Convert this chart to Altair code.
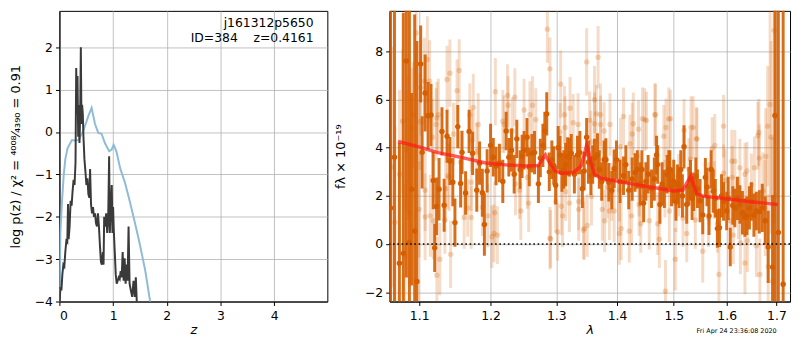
import altair as alt
import pandas as pd

# ---------------- left panel: log p(z) ----------------
z_dark = [0.0, 0.006, 0.018, 0.037, 0.055, 0.074, 0.092, 0.11, 0.129, 0.147, 0.16, 0.172, 0.19, 0.209,
          0.227, 0.245, 0.264, 0.282, 0.3, 0.313, 0.325, 0.337, 0.35, 0.362, 0.374, 0.387, 0.399, 0.411,
          0.423, 0.436, 0.448, 0.466, 0.485, 0.503, 0.521, 0.54, 0.558, 0.571, 0.589, 0.607, 0.626, 0.644,
          0.663, 0.681, 0.699, 0.718, 0.736, 0.755, 0.773, 0.791, 0.81, 0.822, 0.834, 0.853, 0.871, 0.89,
          0.908, 0.926, 0.939, 0.957, 0.975, 0.988, 1.0, 1.012, 1.031, 1.049, 1.067, 1.086, 1.104, 1.123,
          1.141, 1.16, 1.178, 1.196, 1.215, 1.233, 1.252, 1.27, 1.288, 1.307, 1.331, 1.356, 1.38, 1.405,
          1.423, 1.442, 1.466]
lp_dark = [-4.2, -3.98, -3.66, -3.74, -3.36, -3.13, -3.17, -2.83, -2.57, -2.6, -1.7, -2.53, -2.23, -1.62,
           -1.74, -1.4, -1.13, -1.25, -0.72, 1.51, 0.42, 1.32, -0.11, 0.64, -0.26, 0.42, 2.0, 0.19,
           0.64, 0.42, -0.11, -0.64, -0.94, -1.25, -1.09, -1.47, -1.55, -0.87, -1.7, -1.92, -1.77, -2.0,
           -1.92, -2.15, -2.23, -1.92, -2.23, -2.68, -3.06, -3.13, -2.83, -3.13, -2.0, -2.23, -1.92, -2.38,
           -2.08, -0.57, -2.38, -1.77, -1.25, -2.38, -1.77, -2.3, -2.83, -3.36, -3.58, -3.51, -3.43, -3.47,
           -3.28, -3.43, -2.83, -3.51, -2.98, -3.58, -3.13, -3.51, -2.23, -3.58, -3.74, -3.89, -3.51, -3.89,
           -3.43, -4.04, -4.34]

z_prior = [0.0, 0.018, 0.049, 0.08, 0.11, 0.153, 0.233, 0.276, 0.356, 0.448, 0.54, 0.60, 0.663, 0.724,
           0.785, 0.847, 0.926, 0.97, 1.01, 1.06, 1.135, 1.215, 1.294, 1.38, 1.49, 1.60, 1.687, 1.72]
lp_prior = [-4.3, -2.38, -1.62, -1.02, -0.64, -0.38, -0.19, -0.2, -0.19, 0.04, 0.38, 0.57, 0.19, -0.02,
            -0.04, -0.26, -0.45, -0.42, -0.3, -0.45, -0.87, -1.17, -1.55, -2.0, -2.6, -3.28, -3.98, -4.26]

z_ticks = [0, 1, 2, 3, 4]
lp_ticks = [-4, -3, -2, -1, 0, 1, 2]
left_labels = ["j161312p5650", "ID=384\u00a0\u00a0\u00a0\u00a0z=0.4161"]

# ---------------- right panel: spectrum ----------------
lam_dark = [1.0623, 1.0674, 1.0738, 1.079, 1.083, 1.087, 1.090, 1.094, 1.097,
            1.102, 1.104, 1.108, 1.112, 1.116, 1.119, 1.121, 1.1236, 1.127, 1.131, 1.134, 1.138,
            1.142, 1.146, 1.149, 1.153, 1.157, 1.159, 1.164, 1.169, 1.174, 1.180, 1.184, 1.188,
            1.191, 1.195, 1.200, 1.204, 1.208, 1.213, 1.218, 1.223, 1.227, 1.231, 1.235, 1.239,
            1.244, 1.247, 1.250, 1.2545, 1.258, 1.262, 1.266, 1.272, 1.275, 1.279, 1.282, 1.285,
            1.289, 1.293, 1.296, 1.299, 1.303, 1.306, 1.309, 1.312, 1.315, 1.318, 1.321, 1.324,
            1.329, 1.334, 1.338, 1.342, 1.345, 1.349, 1.352, 1.356, 1.359, 1.362, 1.367, 1.370,
            1.374, 1.378, 1.381, 1.386, 1.391, 1.395, 1.399, 1.405, 1.411, 1.415, 1.420, 1.426,
            1.431, 1.435, 1.440, 1.443, 1.446, 1.450, 1.454, 1.460, 1.465, 1.469, 1.471, 1.475,
            1.479, 1.483, 1.488, 1.491, 1.493, 1.496, 1.500, 1.504, 1.507, 1.510, 1.513, 1.516,
            1.519, 1.524, 1.528, 1.531, 1.534, 1.537, 1.541, 1.544, 1.549, 1.554, 1.559, 1.562,
            1.566, 1.570, 1.574, 1.578, 1.582, 1.586, 1.590, 1.594, 1.600, 1.603, 1.607, 1.612,
            1.616, 1.621, 1.626, 1.631, 1.636, 1.640, 1.645, 1.649, 1.654, 1.659, 1.665, 1.671,
            1.677, 1.683, 1.692, 1.697, 1.704, 1.714]
f_dark = [1.5, 3.61, -0.8, -0.39, 7.61, 0.06, 2.28, 0.54, -1.56,
          7.48, 3.81, 6.28, 5.33, 5.36, 2.64, -0.16, 1.56, 2.28, 4.68, 1.61, 4.48,
          3.45, 2.57, 0.89, 4.88, 2.52, 3.81, 2.12, 4.68, 3.77, 2.24, 3.36, 2.13,
          0.81, 3.04, 4.1, 3.61, 3.24, 3.37, 2.6, 4.7, 3.61, 3.9, 2.9, 4.37,
          3.1, 3.64, 3.9, 4.44, 3.2, 3.77, 3.8, 2.5, 3.57, 4.1, 4.7, 5.41,
          3.0, 3.5, 3.26, 2.44, 4.0, 3.7, 2.97, 3.1, 3.3, 3.64, 3.61, 3.77,
          2.9, 3.7, 3.8, 2.3, 3.04, 4.44, 3.4, 2.84, 3.3, 3.57, 3.7, 3.1,
          2.6, 3.5, 3.5, 2.57, 2.24, 3.13, 3.5, 2.6, 2.84, 3.3, 2.24, 2.7,
          2.97, 3.1, 2.5, 3.1, 1.7, 2.6, 2.9, 2.3, 2.7, 3.7, 3.3, 1.64,
          2.5, 2.3, 2.9, 3.1, 3.1, 2.37, 2.6, 1.77, 2.5, 2.3, 3.1, 2.0,
          4.04, 1.64, 2.4, 2.7, 1.9, 2.17, 2.8, 2.3, 1.8, 1.21, 2.77, 2.37,
          1.17, 3.1, 2.2, 1.9, 0.64, 0.68, 2.0, 1.77, 1.37, 1.9, -0.12, 1.6,
          1.5, 1.9, 1.64, 1.3, 1.1, 1.17, 1.5, 1.77, 1.2, 1.37, 1.34, 1.5,
          0.97, -0.12, -0.96, 5.34, 0.48, -1.67]
e_dark = [12.0, 12.0, 5.0, 10.0, 9.0, 10.0, 4.0, 9.0, 10.0,
          1.6, 1.5, 1.6, 1.4, 1.3, 1.2, 1.0, 1.2, 1.3, 1.0, 1.1, 1.1,
          1.0, 1.0, 1.0, 0.9, 1.0, 0.9, 0.9, 0.9, 0.9, 0.9, 0.9, 1.0,
          1.3, 0.9, 0.9, 0.8, 0.8, 0.8, 0.9, 0.8, 0.8, 0.9, 0.8, 0.8,
          0.8, 0.9, 0.8, 0.8, 0.8, 0.8, 0.9, 0.8, 0.8, 0.9, 0.8, 0.9,
          0.8, 0.8, 0.8, 0.8, 0.9, 0.8, 0.8, 0.8, 0.9, 0.8, 0.8, 0.8,
          0.8, 0.8, 0.9, 0.8, 0.8, 0.8, 0.9, 0.8, 0.8, 0.8, 0.9, 0.8,
          0.8, 0.8, 0.9, 0.8, 0.8, 0.8, 0.8, 0.9, 0.8, 0.8, 0.8, 0.9,
          0.8, 0.8, 0.9, 0.8, 0.8, 0.8, 0.8, 0.8, 0.9, 0.8, 0.8, 0.8,
          0.9, 0.8, 0.8, 0.8, 0.8, 0.8, 0.9, 0.8, 0.8, 0.8, 0.8, 0.9,
          0.9, 0.8, 0.8, 0.8, 0.9, 0.8, 0.8, 0.8, 0.9, 0.8, 0.8, 0.8,
          0.8, 0.8, 0.9, 0.8, 0.8, 0.8, 0.9, 0.8, 0.8, 0.9, 0.8, 0.8,
          0.8, 0.9, 0.8, 0.9, 0.8, 0.8, 0.9, 0.8, 0.9, 0.8, 0.9, 1.0,
          1.0, 1.5, 3.0, 8.0, 10.0, 12.0]

lam_light = [1.064, 1.068, 1.074, 1.078, 1.081, 1.083, 1.085, 1.087, 1.090, 1.092, 1.096, 1.100,
             1.101, 1.102, 1.107, 1.108, 1.108, 1.111, 1.114, 1.115, 1.118, 1.119, 1.123, 1.124,
             1.124, 1.126, 1.128, 1.135, 1.136, 1.138, 1.139, 1.141, 1.142, 1.143, 1.147, 1.152,
             1.155, 1.157, 1.162, 1.167, 1.170, 1.172, 1.172, 1.173, 1.175, 1.180, 1.182, 1.188,
             1.196, 1.202, 1.205, 1.206, 1.207, 1.210, 1.218, 1.220, 1.225, 1.226, 1.232, 1.236,
             1.237, 1.243, 1.245, 1.250, 1.255, 1.257, 1.259, 1.263, 1.268, 1.286, 1.290, 1.290,
             1.291, 1.299, 1.302, 1.306, 1.307, 1.308, 1.310, 1.313, 1.314, 1.315, 1.321, 1.322,
             1.327, 1.335, 1.336, 1.336, 1.344, 1.345, 1.349, 1.350, 1.354, 1.356, 1.357, 1.362,
             1.362, 1.365, 1.368, 1.372, 1.372, 1.375, 1.378, 1.379, 1.383, 1.387, 1.388, 1.391,
             1.395, 1.404, 1.404, 1.406, 1.407, 1.411, 1.421, 1.422, 1.425, 1.426, 1.428, 1.437,
             1.438, 1.438, 1.441, 1.444, 1.448, 1.451, 1.456, 1.466, 1.467, 1.471, 1.474, 1.482,
             1.484, 1.485, 1.486, 1.491, 1.492, 1.494, 1.503, 1.504, 1.509, 1.517, 1.519, 1.524,
             1.528, 1.531, 1.532, 1.536, 1.540, 1.542, 1.543, 1.554, 1.565, 1.566, 1.572, 1.576,
             1.577, 1.582, 1.585, 1.594, 1.594, 1.597, 1.607, 1.610, 1.611, 1.613, 1.616, 1.623,
             1.626, 1.627, 1.636, 1.636, 1.640, 1.641, 1.649, 1.655, 1.659, 1.662, 1.664, 1.665,
             1.666, 1.672, 1.677, 1.678, 1.682, 1.683, 1.687, 1.689, 1.692, 1.695, 1.699]
f_light = [3.2, 0.9, 2.9, 5.1, -0.5, 3.9, 4.0, 1.3, 4.8, 5.37, 8.77, 1.44,
           5.08, 6.5, 6.77, 1.13, 2.24, 7.67, 6.77, 1.17, 4.44, 0.97, 4.97, -1.3,
           5.24, 5.37, -0.63, 1.0, 2.3, 6.84, 2.84, 2.77, 7.1, -0.43, 4.57, 6.37,
           7.21, 3.4, 1.1, 1.5, 5.37, 2.57, 1.1, 4.3, 5.68, 3.84, 4.97, 1.53,
           1.17, 0.3, 0.44, 1.3, 6.33, 0.37, 5.1, 4.97, 6.17, 5.77, 4.7, 6.1,
           2.5, 2.24, 1.37, 5.57, 2.77, 1.7, 5.37, 5.77, 5.17, 8.93, 7.28, 0.24,
           0.21, 1.77, 0.5, 4.66, 6.64, 1.57, 1.17, 5.37, 4.84, 2.17, 1.7, 5.64,
           5.04, 4.97, 1.77, 1.44, 0.57, 0.64, 7.57, 0.77, 5.14, 4.24, 1.97, 6.0,
           5.0, 5.41, 7.76, 4.97, 5.37, 1.44, 4.7, 0.97, 2.37, 1.37, 4.97, 2.17,
           1.37, 0.44, 2.24, 4.04, 0.64, 5.3, 0.53, 4.17, 1.17, 4.57, 5.0, 4.77,
           1.64, 2.44, 0.84, 5.21, 5.17, 5.13, 0.97, 5.37, 5.37, 0.84, 0.2, 4.48,
           2.3, -1.96, 4.84, 5.2, 1.37, 5.21, -0.63, 1.7, 2.44, 1.08, 4.73, 0.44,
           3.1, 3.53, 4.84, 4.84, 1.0, 4.37, 4.37, -0.3, 1.08, 2.1, 3.97, 2.24,
           4.1, 0.84, -1.27, 2.94, 4.9, 2.64, 0.97, 3.44, 2.77, 0.37, 3.44, 1.5,
           3.17, 0.04, -0.79, 2.9, 3.04, 0.14, 2.46, 3.17, -0.07, 4.5, 4.64, 3.57,
           -1.27, 2.2, 1.5, 3.64, 4.9, -0.94, 5.8, 4.44, -1.56, 8.88, 2.0]
e_light = [5.0, 4.0, 3.5, 3.0, 3.0, 2.5, 3.0, 3.0, 2.5, 2.2, 2.2, 2.0,
           2.0, 2.0, 1.8, 1.8, 1.7, 1.8, 1.7, 1.7, 1.6, 1.6, 1.5, 1.6,
           1.5, 1.5, 1.5, 1.4, 1.4, 1.4, 1.4, 1.4, 1.4, 1.4, 1.3, 1.3,
           1.3, 1.3, 1.3, 1.2, 1.3, 1.2, 1.3, 1.3, 1.4, 1.2, 1.3, 1.2,
           1.3, 1.3, 1.2, 1.3, 1.4, 1.2, 1.3, 1.2, 1.3, 1.2, 1.4, 1.2,
           1.3, 1.2, 1.2, 1.3, 1.3, 1.2, 1.4, 1.2, 1.3, 1.4, 1.3, 1.3,
           1.2, 1.3, 1.2, 1.2, 1.4, 1.2, 1.3, 1.2, 1.3, 1.2, 1.2, 1.3,
           1.2, 1.3, 1.2, 1.3, 1.2, 1.3, 1.4, 1.3, 1.2, 1.3, 1.2, 1.4,
           1.3, 1.2, 1.3, 1.2, 1.3, 1.3, 1.2, 1.3, 1.3, 1.2, 1.3, 1.2,
           1.3, 1.3, 1.3, 1.2, 1.3, 1.2, 1.3, 1.2, 1.2, 1.3, 1.3, 1.2,
           1.3, 1.3, 1.2, 1.3, 1.3, 1.2, 1.2, 1.3, 1.3, 1.3, 1.2, 1.3,
           1.2, 1.3, 1.2, 1.3, 1.3, 1.2, 1.3, 1.2, 1.3, 1.2, 1.3, 1.2,
           1.3, 1.2, 1.3, 1.3, 1.2, 1.3, 1.3, 1.3, 1.2, 1.3, 1.3, 1.2,
           1.3, 1.2, 1.3, 1.2, 1.3, 1.3, 1.2, 1.3, 1.3, 1.2, 1.3, 1.3,
           1.2, 1.3, 1.3, 1.3, 1.2, 1.3, 1.3, 1.3, 1.3, 1.4, 1.4, 1.4,
           1.5, 1.6, 2.0, 2.0, 2.5, 3.0, 4.0, 4.0, 6.0, 8.0, 10.0]

lam_model = [1.072, 1.100, 1.124, 1.156, 1.193, 1.226, 1.252, 1.272, 1.278, 1.283, 1.288, 1.298,
             1.309, 1.327, 1.340, 1.345, 1.349, 1.352, 1.356, 1.362, 1.372, 1.411, 1.438, 1.469,
             1.499, 1.517, 1.525, 1.532, 1.536, 1.543, 1.554, 1.591, 1.643, 1.703]
f_model = [4.26, 4.04, 3.81, 3.61, 3.37, 3.28, 3.24, 3.26, 3.5, 3.7, 3.44, 3.04,
           2.94, 2.97, 3.24, 3.7, 4.1, 3.9, 3.37, 2.9, 2.74, 2.57, 2.44, 2.33,
           2.2, 2.24, 2.57, 2.84, 2.5, 2.1, 1.99, 1.9, 1.77, 1.64]

lam_ticks = [1.1, 1.2, 1.3, 1.4, 1.5, 1.6, 1.7]
f_ticks = [-2, 0, 2, 4, 6, 8]
timestamp = "Fri Apr 24 23:36:08 2020"

ORANGE = "#d55e00"
FONT = "DejaVu Sans"
H = 294

# ---------------- build left panel ----------------
df_dark = pd.DataFrame({"z": z_dark, "lp": lp_dark})
df_prior = pd.DataFrame({"z": z_prior, "lp": lp_prior})

xz = alt.X("z:Q", scale=alt.Scale(domain=[0, 4.99], nice=False),
           axis=alt.Axis(values=z_ticks, title="z", titleFontStyle="italic", format="d"))
ylp = alt.Y("lp:Q", scale=alt.Scale(domain=[-4, 2.86], nice=False),
            axis=alt.Axis(values=lp_ticks, format="d",
                          title="log p(z) / χ² = ⁴⁰⁰⁸⁄₄₃₉₀ = 0.91", titlePadding=12))

prior_line = alt.Chart(df_prior).mark_line(color="#8fbbd9", strokeWidth=2, clip=True).encode(x=xz, y=ylp)
dark_line = alt.Chart(df_dark).mark_line(color="#3a3a3a", strokeWidth=2, clip=True).encode(x=xz, y=ylp)

lab_df = pd.DataFrame({"t": left_labels})
txt1 = alt.Chart(lab_df.iloc[[0]]).mark_text(align="right", baseline="middle", fontSize=12.5,
                                             font=FONT, color="black").encode(
    x=alt.value(257), y=alt.value(12), text="t:N")
txt2 = alt.Chart(lab_df.iloc[[1]]).mark_text(align="right", baseline="middle", fontSize=12.5,
                                             font=FONT, color="black").encode(
    x=alt.value(257), y=alt.value(27), text="t:N")

left = alt.layer(prior_line, dark_line, txt1, txt2).properties(width=271, height=H)

# ---------------- build right panel ----------------
df_d = pd.DataFrame({"lam": lam_dark, "f": f_dark, "e": e_dark})
df_d["lo"] = df_d["f"] - df_d["e"]
df_d["hi"] = df_d["f"] + df_d["e"]
df_l = pd.DataFrame({"lam": lam_light, "f": f_light, "e": e_light})
df_l["lo"] = df_l["f"] - df_l["e"]
df_l["hi"] = df_l["f"] + df_l["e"]
df_m = pd.DataFrame({"lam": lam_model, "f": f_model})

xs = alt.Scale(type="log", domain=[1.0611, 1.7284], nice=False)
yscale = alt.Scale(domain=[-2.39, 9.69], nice=False)
xl = alt.X("lam:Q", scale=xs, axis=alt.Axis(values=lam_ticks, format=".1f", title="λ",
                                            titleFontStyle="italic"))
yf = alt.Y("f:Q", scale=yscale, axis=alt.Axis(values=f_ticks, format="d",
                                             title="fλ × 10⁻¹⁹", titlePadding=17))

light_bars = alt.Chart(df_l).mark_rule(color=ORANGE, opacity=0.22, strokeWidth=3, clip=True).encode(
    x=xl, y=alt.Y("lo:Q", scale=yscale), y2="hi:Q")
light_pts = alt.Chart(df_l).mark_circle(color=ORANGE, opacity=0.25, size=30, clip=True).encode(x=xl, y=yf)
dark_bars = alt.Chart(df_d).mark_rule(color=ORANGE, opacity=0.9, strokeWidth=3, clip=True).encode(
    x=xl, y=alt.Y("lo:Q", scale=yscale), y2="hi:Q")
dark_pts = alt.Chart(df_d).mark_circle(color=ORANGE, opacity=1, size=30, clip=True).encode(x=xl, y=yf)
model = alt.Chart(df_m).mark_line(color="#ff1a1a", opacity=0.7, strokeWidth=3.5, clip=True).encode(x=xl, y=yf)
zero = alt.Chart(pd.DataFrame({"y0": [0]})).mark_rule(color="black", strokeWidth=1.6,
                                                      strokeDash=[1.6, 2.7]).encode(
    y=alt.Y("y0:Q", scale=yscale))
stamp = alt.Chart(pd.DataFrame({"t": [timestamp]})).mark_text(
    fontSize=6.5, font=FONT, color="black", align="center", baseline="middle").encode(
    x=alt.value(351), y=alt.value(H + 30), text="t:N")

right = alt.layer(light_bars, light_pts, dark_bars, dark_pts, model, zero, stamp).properties(
    width=405, height=H)

chart = alt.hconcat(left, right, spacing=6).properties(
    padding={"left": 1, "top": 0, "right": 0, "bottom": 0}
).configure_axis(
    labelFont=FONT, labelFontSize=12.5, labelColor="black", labelPadding=3,
    titleFont=FONT, titleFontSize=13, titleFontWeight="normal", titleColor="black",
    gridColor="#b0b0b0", gridWidth=0.8, tickColor="black", tickSize=4,
    domainColor="black", domainWidth=1
).configure_axisX(titlePadding=2, labelPadding=4).configure_view(stroke="black", strokeWidth=1)

chart.save("out.html", embed_options={"renderer": "svg", "actions": False})
